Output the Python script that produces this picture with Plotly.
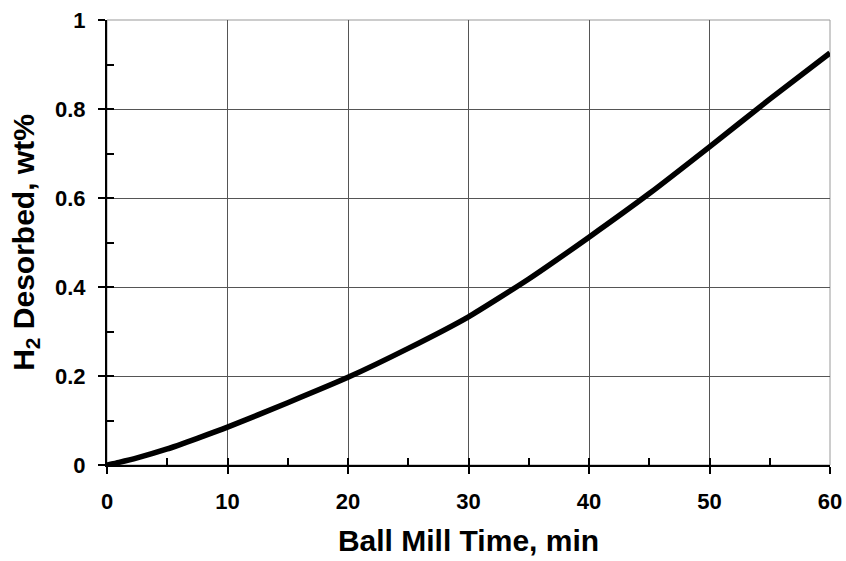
import plotly.graph_objects as go

time_min = [0, 1, 2.5, 5, 7.5, 10, 15, 20, 25, 30, 35, 40, 45, 50, 55, 60]
h2_wt = [0, 0.006, 0.016, 0.036, 0.06, 0.085, 0.14, 0.197, 0.262, 0.333, 0.418, 0.512, 0.61, 0.715, 0.822, 0.926]

x_ticks = [0, 10, 20, 30, 40, 50, 60]
y_ticks = [0, 0.2, 0.4, 0.6, 0.8, 1]
y_tick_labels = ["0", "0.2", "0.4", "0.6", "0.8", "1"]

FONT = "Liberation Sans"

fig = go.Figure()
fig.add_trace(go.Scatter(x=time_min, y=h2_wt, mode="lines",
                         line=dict(color="black", width=5.5, shape="spline", smoothing=0.5),
                         showlegend=False, hoverinfo="skip"))
# dummy trace for overlay axes (inside ticks)
fig.add_trace(go.Scatter(x=[None], y=[None], xaxis="x2", yaxis="y2", showlegend=False, hoverinfo="skip"))

fig.update_layout(
    width=846, height=561,
    margin=dict(l=107, r=16, t=20, b=96),
    paper_bgcolor="white", plot_bgcolor="white",
    font=dict(family=FONT, color="black", size=22),
    xaxis=dict(range=[0, 60], tickvals=x_ticks, ticktext=["<b>%s</b>" % v for v in x_ticks],
               showgrid=True, gridcolor="#555555", gridwidth=1,
               showline=True, linecolor="black", linewidth=2,
               ticks="outside", ticklen=7, tickwidth=2, tickcolor="black",
               tickfont=dict(size=22, family=FONT, color="black"),
               ticklabelstandoff=9, automargin=False,
               zeroline=False,
               title=dict(text="<b>Ball Mill Time, min</b>", font=dict(size=30, family=FONT, color="black"), standoff=17)),
    yaxis=dict(range=[0, 1], tickvals=y_ticks, ticktext=["<b>%s</b>" % t for t in y_tick_labels],
               showgrid=True, gridcolor="#555555", gridwidth=1,
               showline=True, linecolor="black", linewidth=2,
               ticks="outside", ticklen=7, tickwidth=2, tickcolor="black",
               tickfont=dict(size=22, family=FONT, color="black"),
               ticklabelstandoff=8, automargin=False,
               zeroline=False,
               title=dict(text="<b>H<sub>2</sub> Desorbed, wt%</b>", font=dict(size=30, family=FONT, color="black"), standoff=12)),
    xaxis2=dict(range=[0, 60], overlaying="x", anchor="y", side="bottom",
                dtick=5, tick0=0, ticks="inside", ticklen=7, tickwidth=2, tickcolor="black",
                showticklabels=False, showgrid=False, zeroline=False, showline=False, automargin=False),
    yaxis2=dict(range=[0, 1], overlaying="y", anchor="x", side="left",
                dtick=0.1, tick0=0, ticks="inside", ticklen=7, tickwidth=2, tickcolor="black",
                showticklabels=False, showgrid=False, zeroline=False, showline=False, automargin=False),
    shapes=[dict(type="rect", xref="paper", yref="paper", x0=0, y0=0, x1=1, y1=1,
                 line=dict(color="#999999", width=1), layer="below")],
)

fig.write_html("out.html")
